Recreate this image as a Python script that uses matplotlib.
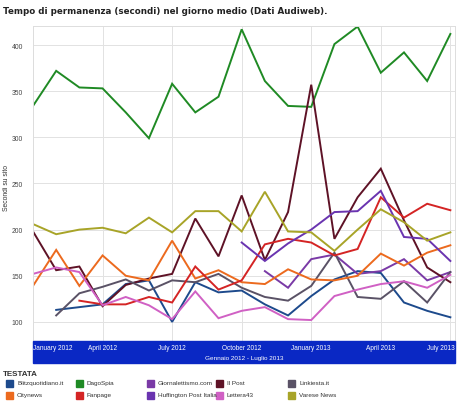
import matplotlib
matplotlib.use('Agg')
import matplotlib.pyplot as plt
from matplotlib.patches import Rectangle
import numpy as np

nan = np.nan

months = np.arange(19)  # Jan 2012 .. Jul 2013
tick_pos = [0, 3, 6, 9, 12, 15, 18]
tick_labels = ['January 2012', 'April 2012', 'July 2012', 'October 2012',
               'January 2013', 'April 2013', 'July 2013']

blitz = [nan, 113, 116, 119, 141, 145, 100, 143, 132, 134, 119, 107, 128, 146, 155, 153, 121, 112, 105]
dagospia = [334, 372, 354, 353, 327, 299, 358, 327, 344, 417, 361, 334, 333, 401, 420, 370, 392, 361, 412]
giornalettismo = [nan, nan, nan, nan, nan, nan, nan, nan, nan, nan, 155, 137, 168, 173, 152, 155, 168, 145, 154]
ilpost = [198, 156, 160, 117, 140, 147, 152, 212, 171, 237, 167, 219, 357, 190, 235, 266, 210, 159, 143]
linkiesta = [nan, 107, 131, 138, 146, 134, 145, 143, 152, 137, 127, 123, 139, 175, 127, 125, 144, 121, 154]
citynews = [139, 178, 139, 172, 150, 145, 188, 147, 156, 143, 141, 157, 146, 145, 150, 174, 161, 175, 183]
fanpage = [nan, nan, 123, 119, 119, 127, 121, 160, 135, 145, 184, 190, 186, 172, 179, 235, 213, 228, 221]
huffpost = [nan, nan, nan, nan, nan, nan, nan, nan, nan, 186, 166, 185, 200, 219, 220, 242, 192, 190, 166]
lettera43 = [152, 159, 154, 118, 127, 118, 103, 133, 104, 112, 116, 103, 102, 128, 135, 141, 144, 137, 151]
varese = [206, 195, 200, 202, 196, 213, 197, 220, 220, 198, 241, 198, 197, 177, 200, 222, 208, 188, 197]

names = ['Blitzquotidiano.it', 'DagoSpia', 'Giornalettismo.com', 'Il Post', 'Linkiesta.it',
         'Citynews', 'Fanpage', 'Huffington Post Italia', 'Lettera43', 'Varese News']
series = [blitz, dagospia, giornalettismo, ilpost, linkiesta,
          citynews, fanpage, huffpost, lettera43, varese]
colors = ['#1d4a8c', '#1f8a24', '#7a3aa6', '#5e1226', '#5a5266',
          '#ec6a1e', '#d42424', '#6a34b0', '#d060c4', '#a8a428']

fig = plt.figure(figsize=(4.6, 4.02), dpi=100)
ax = fig.add_axes([33 / 460, 1 - 342 / 402, 422 / 460, 315 / 402])

for vals, c in zip(series, colors):
    ax.plot(months, vals, color=c, lw=1.4, solid_joinstyle='miter')

ax.set_xlim(0, 18.2)
ax.set_ylim(79.3, 420.6)
ax.set_yticks([100, 150, 200, 250, 300, 350, 400])
ax.set_xticks(tick_pos)
ax.set_xticklabels([])
ax.grid(True, color='#e2e2e2', lw=0.7)
ax.set_axisbelow(True)
for s in ax.spines.values():
    s.set_color('#dddddd')
    s.set_linewidth(0.7)
ax.tick_params(length=0, labelsize=4.9, labelcolor='#444444', pad=7)
for lab in ax.get_yticklabels():
    lab.set_family('Liberation Sans')
ax.set_ylabel('Secondi su sito', fontsize=4.9, family='Liberation Sans', color='#333333')
ax.yaxis.set_label_coords(-0.055, 0.49)

# blue axis band
band = Rectangle((0, -22 / 315), 1, 22 / 315, transform=ax.transAxes,
                 color='#0a28c4', clip_on=False, zorder=3)
ax.add_patch(band)
for i, (p, t) in enumerate(zip(tick_pos, tick_labels)):
    ha = 'left' if i == 0 else ('right' if i == len(tick_pos) - 1 else 'center')
    xt = 18.2 if i == len(tick_pos) - 1 else p
    ax.annotate(t, xy=(xt, 0), xycoords=('data', 'axes fraction'), xytext=(0, -5),
                textcoords='offset points', ha=ha, va='center', color='white',
                fontsize=4.7, family='Liberation Sans', zorder=4, annotation_clip=False)
ax.text(0.5, -17 / 315, 'Gennaio 2012 - Luglio 2013', transform=ax.transAxes,
        ha='center', va='center', color='white', fontsize=4.6, family='Liberation Sans', zorder=4)

fig.text(3 / 460, 1 - 12 / 402, 'Tempo di permanenza (secondi) nel giorno medio (Dati Audiweb).',
         fontsize=6.3, fontweight='bold', color='#222222', va='center', ha='left')

# legend
fig.text(3 / 460, 1 - 375 / 402, 'TESTATA', fontsize=5.8, fontweight='bold',
         color='#333333', va='center', ha='left', family='Liberation Sans')
col_x = [6, 76, 147, 216, 288]
row_y = [384, 396]
for k, (n, c) in enumerate(zip(names, colors)):
    r, cidx = divmod(k, 5)
    x0, y0 = col_x[cidx], row_y[r]
    fig.patches.append(Rectangle((x0 / 460, 1 - (y0 + 3.5) / 402), 7 / 460, 7 / 402,
                                 transform=fig.transFigure, color=c, figure=fig))
    fig.text((x0 + 11) / 460, 1 - y0 / 402, n, fontsize=4.6, color='#333333',
             va='center', ha='left', family='Liberation Sans')

fig.savefig('out.png', dpi=100, facecolor='white')
